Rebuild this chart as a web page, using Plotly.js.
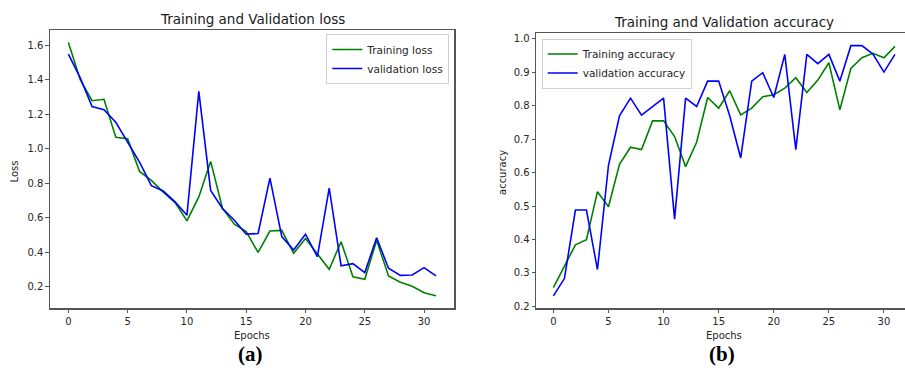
<!DOCTYPE html>
<html>
<head>
<meta charset="utf-8">
<script src="https://cdn.plot.ly/plotly-3.0.1.min.js"></script>
<style>html,body{margin:0;padding:0;background:#fff;}#chart{width:905px;height:372px;}</style>
</head>
<body>
<div id="chart"></div>
<script>
const epochs = Array.from({length: 32}, (_, i) => i);

const trainLoss = [1.615, 1.40, 1.278, 1.286, 1.066, 1.057, 0.868, 0.816, 0.748, 0.687,
  0.581, 0.720, 0.926, 0.653, 0.562, 0.519, 0.398, 0.522, 0.526, 0.393,
  0.479, 0.393, 0.300, 0.460, 0.257, 0.242, 0.469, 0.261, 0.225, 0.202,
  0.164, 0.147];
const valLoss = [1.548, 1.41, 1.244, 1.226, 1.153, 1.037, 0.922, 0.785, 0.754, 0.691,
  0.614, 1.332, 0.758, 0.653, 0.585, 0.504, 0.508, 0.829, 0.490, 0.412,
  0.504, 0.373, 0.771, 0.321, 0.333, 0.281, 0.483, 0.306, 0.265, 0.267,
  0.310, 0.262];

const trainAcc = [0.256, 0.320, 0.384, 0.399, 0.543, 0.498, 0.625, 0.676, 0.669, 0.755,
  0.755, 0.708, 0.618, 0.691, 0.825, 0.793, 0.845, 0.773, 0.793, 0.827,
  0.833, 0.853, 0.884, 0.840, 0.877, 0.929, 0.788, 0.912, 0.944, 0.957,
  0.944, 0.978];
const valAcc = [0.231, 0.283, 0.488, 0.488, 0.310, 0.622, 0.770, 0.823, 0.772, 0.798,
  0.823, 0.461, 0.823, 0.798, 0.874, 0.874, 0.770, 0.644, 0.874, 0.899,
  0.825, 0.954, 0.669, 0.954, 0.926, 0.954, 0.874, 0.980, 0.980, 0.955,
  0.901, 0.954];

const lossTicks = [0.2, 0.4, 0.6, 0.8, 1.0, 1.2, 1.4, 1.6];
const accTicks = [0.2, 0.3, 0.4, 0.5, 0.6, 0.7, 0.8, 0.9, 1.0];
const epochTicks = [0, 5, 10, 15, 20, 25, 30];

const W = 905, H = 372;
const px = x => x / W;
const py = y => (H - y) / H;

const FONT = 'DejaVu Sans, sans-serif';
const tickFont = {family: FONT, size: 10, color: '#262626'};
const spine = '#555';

const traces = [
  {x: epochs, y: trainLoss, type: 'scatter', mode: 'lines', name: 'Training loss',
   line: {color: 'green', width: 1.6}, xaxis: 'x', yaxis: 'y', legend: 'legend'},
  {x: epochs, y: valLoss, type: 'scatter', mode: 'lines', name: 'validation loss',
   line: {color: 'blue', width: 1.6}, xaxis: 'x', yaxis: 'y', legend: 'legend'},
  {x: epochs, y: trainAcc, type: 'scatter', mode: 'lines', name: 'Training accuracy',
   line: {color: 'green', width: 1.6}, xaxis: 'x2', yaxis: 'y2', legend: 'legend2'},
  {x: epochs, y: valAcc, type: 'scatter', mode: 'lines', name: 'validation accuracy',
   line: {color: 'blue', width: 1.6}, xaxis: 'x2', yaxis: 'y2', legend: 'legend2'}
];

const axisBase = {
  showgrid: false, zeroline: false, showline: true, linecolor: spine, linewidth: 1.2,
  ticks: 'outside', ticklen: 3.5, tickwidth: 1, tickcolor: spine, tickfont: tickFont,
  fixedrange: true
};

const legendBase = {
  bgcolor: 'rgba(255,255,255,0.85)', bordercolor: '#d0d0d0', borderwidth: 1,
  font: {family: FONT, size: 10.5, color: '#262626'}, tracegroupgap: 0,
  itemwidth: 30
};

const layout = {
  width: W, height: H,
  margin: {l: 0, r: 0, t: 0, b: 0},
  paper_bgcolor: '#fff', plot_bgcolor: '#fff',
  showlegend: true,
  xaxis: Object.assign({}, axisBase, {
    domain: [px(50), px(454.3)], range: [-1.55, 32.55], tickvals: epochTicks,
    mirror: true, anchor: 'y'
  }),
  yaxis: Object.assign({}, axisBase, {
    domain: [py(308.3), py(30)], range: [0.074, 1.688], tickvals: lossTicks,
    tickformat: '.1f', mirror: true, anchor: 'x'
  }),
  xaxis2: Object.assign({}, axisBase, {
    domain: [px(536.3), 1], range: [-1.55, 31.91], tickvals: epochTicks,
    mirror: true, anchor: 'y2'
  }),
  yaxis2: Object.assign({}, axisBase, {
    domain: [py(308.3), py(33.3)], range: [0.194, 1.017], tickvals: accTicks,
    tickformat: '.1f', anchor: 'x2'
  }),
  legend: Object.assign({}, legendBase, {
    x: px(449.3), y: py(34), xanchor: 'right', yanchor: 'top'
  }),
  legend2: Object.assign({}, legendBase, {
    x: px(541.7), y: py(38.5), xanchor: 'left', yanchor: 'top'
  }),
  annotations: [
    {text: 'Training and Validation loss', xref: 'paper', yref: 'paper',
     x: px(252), y: py(19), xanchor: 'center', yanchor: 'middle', showarrow: false,
     font: {family: FONT, size: 13.5, color: '#1a1a1a'}},
    {text: 'Training and Validation accuracy', xref: 'paper', yref: 'paper',
     x: px(724), y: py(22.5), xanchor: 'center', yanchor: 'middle', showarrow: false,
     font: {family: FONT, size: 13.5, color: '#1a1a1a'}},
    {text: 'Loss', xref: 'paper', yref: 'paper', x: px(13.5), y: py(172),
     xanchor: 'center', yanchor: 'middle', showarrow: false, textangle: -90,
     font: {family: FONT, size: 10, color: '#262626'}},
    {text: 'accuracy', xref: 'paper', yref: 'paper', x: px(502), y: py(172),
     xanchor: 'center', yanchor: 'middle', showarrow: false, textangle: -90,
     font: {family: FONT, size: 10, color: '#262626'}},
    {text: 'Epochs', xref: 'paper', yref: 'paper', x: px(252.3), y: py(335),
     xanchor: 'center', yanchor: 'middle', showarrow: false,
     font: {family: FONT, size: 10, color: '#262626'}},
    {text: 'Epochs', xref: 'paper', yref: 'paper', x: px(724.3), y: py(335),
     xanchor: 'center', yanchor: 'middle', showarrow: false,
     font: {family: FONT, size: 10, color: '#262626'}},
    {text: '<b>(a)</b>', xref: 'paper', yref: 'paper', x: px(250.7), y: py(354),
     xanchor: 'center', yanchor: 'middle', showarrow: false,
     font: {family: 'Liberation Serif, Times New Roman, serif', size: 21, color: '#000'}},
    {text: '<b>(b)</b>', xref: 'paper', yref: 'paper', x: px(721.7), y: py(354),
     xanchor: 'center', yanchor: 'middle', showarrow: false,
     font: {family: 'Liberation Serif, Times New Roman, serif', size: 21, color: '#000'}}
  ]
};

Plotly.newPlot('chart', traces, layout, {displayModeBar: false, staticPlot: true});
</script>
</body>
</html>
